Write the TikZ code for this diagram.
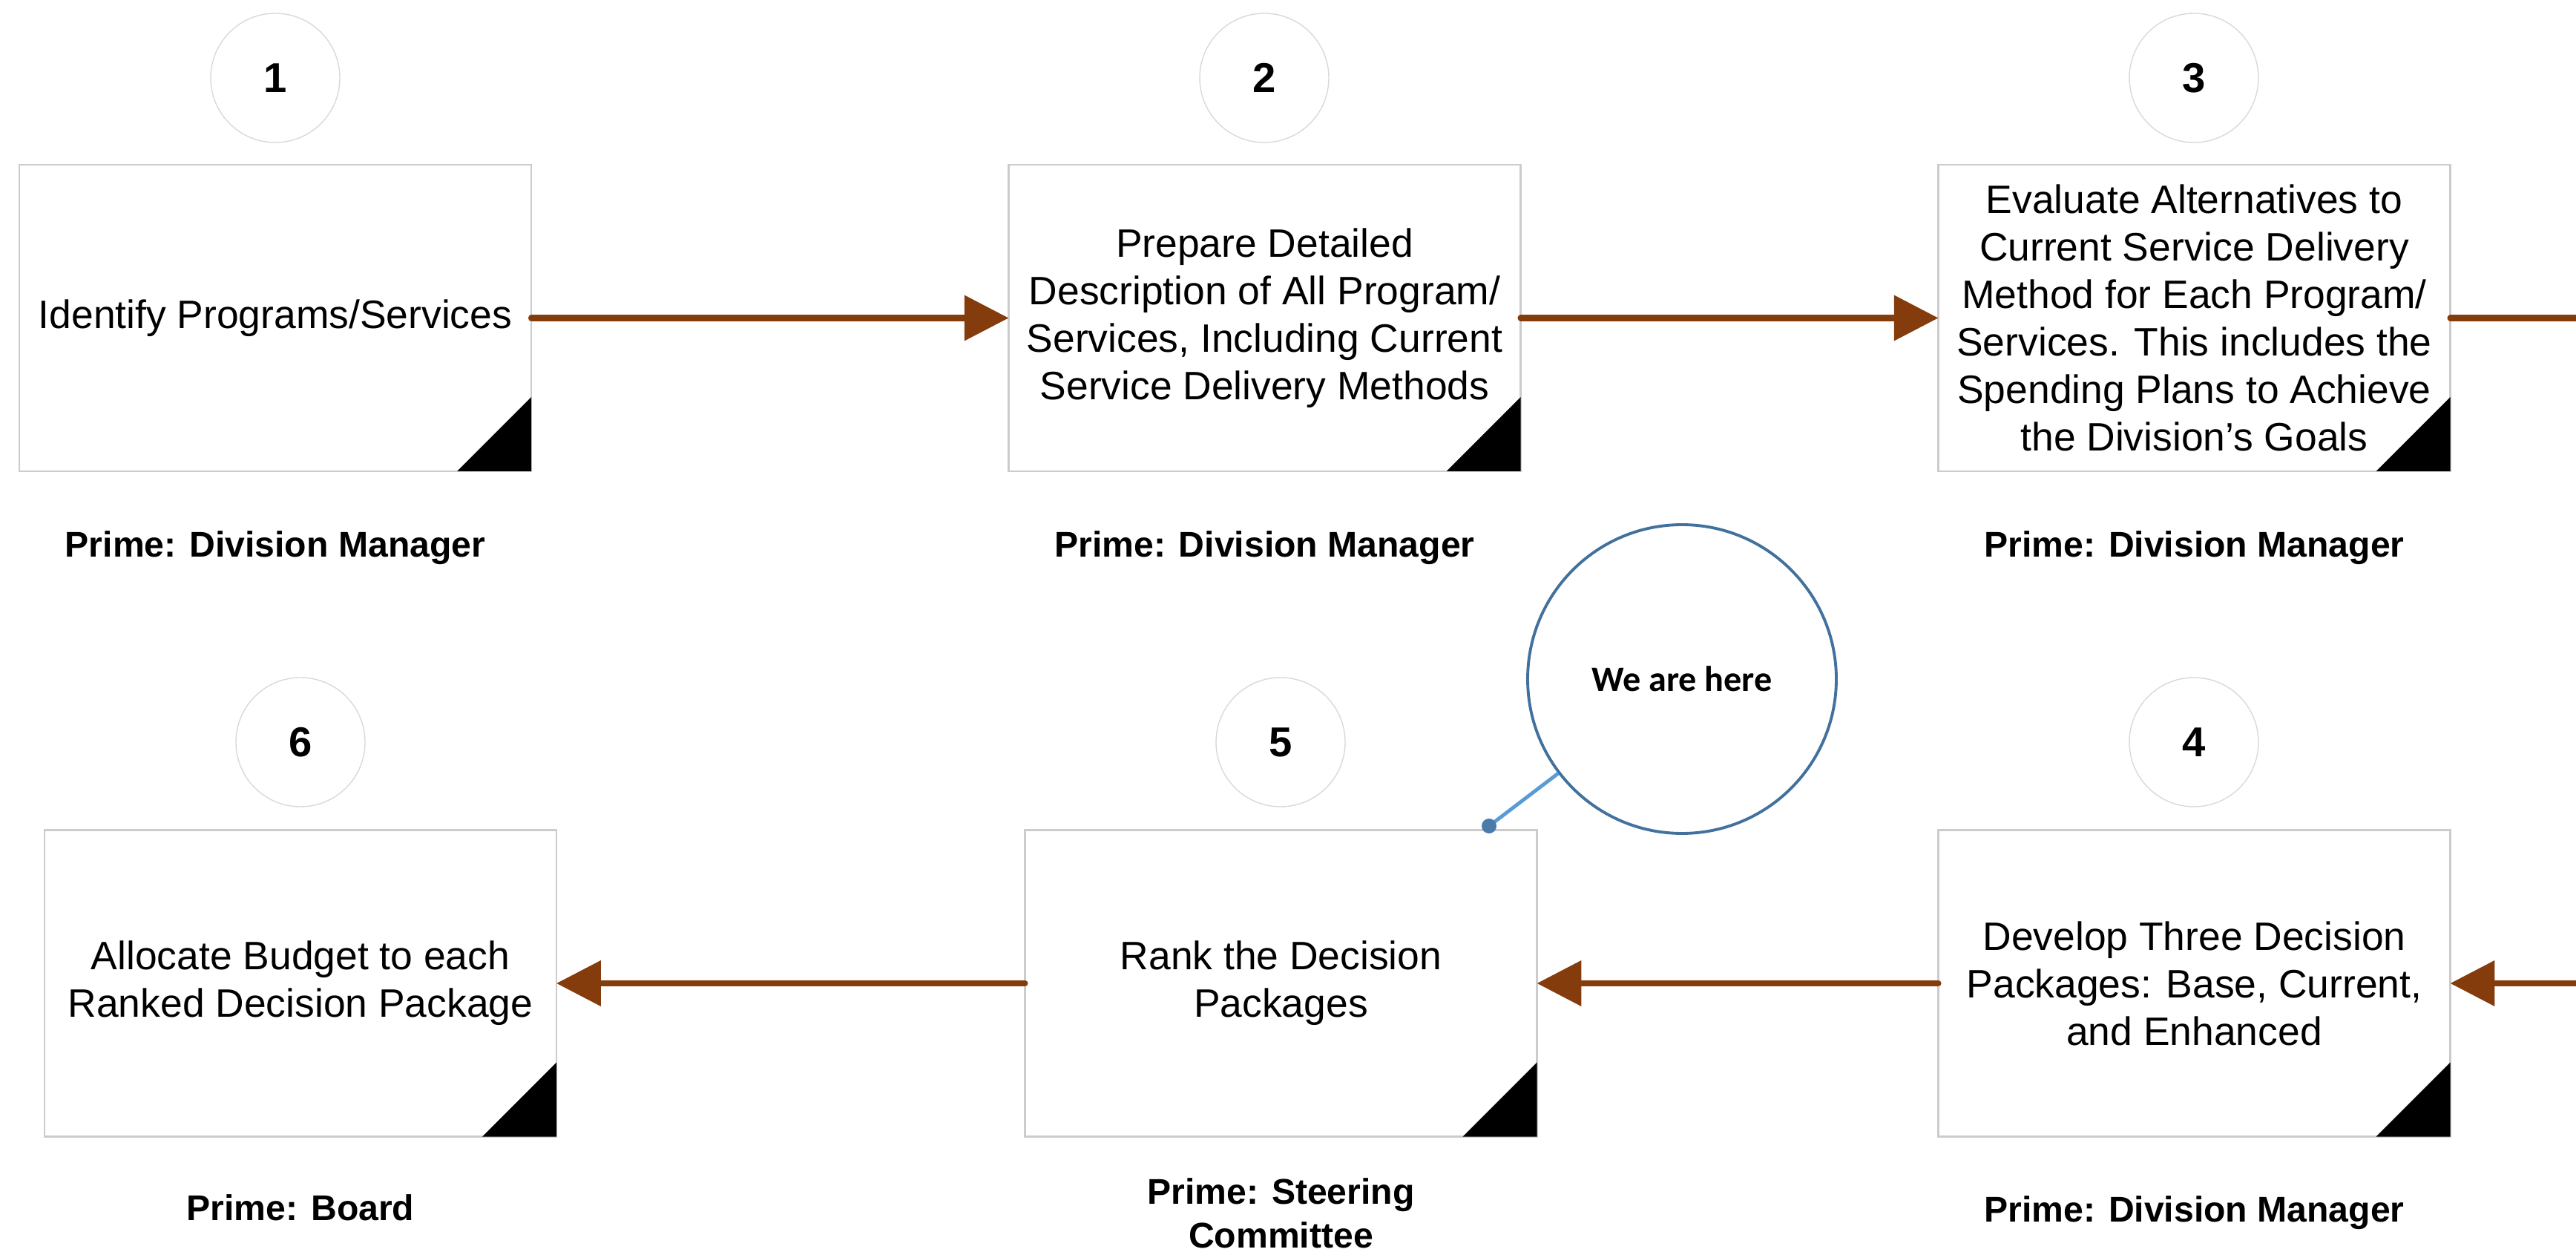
\documentclass[tikz,border=0pt]{standalone}
\usepackage{fontspec}
\setmainfont{Liberation Sans}
\newfontfamily\calibrifont{Carlito}
\usepackage{tikz}
\usetikzlibrary{arrows.meta}
\definecolor{flowbrown}{HTML}{843C0C}
\definecolor{calloutblue}{HTML}{41719C}
\definecolor{tailblue}{HTML}{5B9BD5}

\begin{document}
\begin{tikzpicture}[
    stepbox/.style={draw=black!20, line width=0.6pt, fill=white, minimum width=6.9cm,
        minimum height=4.13cm, inner sep=0pt, outer sep=0pt, align=center,
        font=\fontsize{15.2}{18.2}\selectfont},
    num/.style={circle, draw=black!15, line width=0.4pt, minimum size=1.74cm,
        inner sep=0pt, font=\fontsize{16}{16}\selectfont\bfseries},
    prime/.style={align=center, font=\fontsize{13.7}{16.8}\selectfont\bfseries},
    flow/.style={draw=flowbrown, line width=2.3pt, line cap=round,
        -{Triangle[length=17pt,width=17pt]}},
    callout/.style={circle, draw=calloutblue, line width=1.1pt, fill=white,
        minimum size=4.16cm, inner sep=0pt, font=\fontsize{13.7}{13.7}\calibrifont\bfseries}
]
    \useasboundingbox (0,0) rectangle (34.72,-16.87);

    % Step numbers
    \node[num](c1)  at (3.71,-1.05)  {1};
    \node[num](c2)  at (17.04,-1.05) {2};
    \node[num](c3)  at (29.57,-1.05) {3};
    \node[num](c6)  at (4.05,-10.00) {6};
    \node[num](c5)  at (17.26,-10.00) {5};
    \node[num](c4)  at (29.57,-10.00) {4};

    % Steps
    \node[stepbox](b1) at (3.71,-4.285)   {Identify Programs/Services};
    \node[stepbox](b2) at (17.045,-4.285) {Prepare Detailed\\Description of All Program/\\Services, Including Current\\Service Delivery Methods};
    \node[stepbox](b3) at (29.575,-4.285) {Evaluate Alternatives to\\Current Service Delivery\\Method for Each Program/\\Services. This includes the\\Spending Plans to Achieve\\the Division’s Goals};
    \node[stepbox](b6) at (4.05,-13.25)   {Allocate Budget to each\\Ranked Decision Package};
    \node[stepbox](b5) at (17.265,-13.25) {Rank the Decision\\Packages};
    \node[stepbox](b4) at (29.575,-13.25) {Develop Three Decision\\Packages: Base, Current,\\and Enhanced};

    \foreach \b in {b1,b2,b3,b4,b5,b6}
        \fill (\b.south east) -- ++(-1,0) -- ++(1,1) -- cycle;

    % Owners
    \node[prime](p1) at (3.71,-7.38)    {Prime: Division Manager};
    \node[prime](p2) at (17.045,-7.38)  {Prime: Division Manager};
    \node[prime](p3) at (29.575,-7.38)  {Prime: Division Manager};
    \node[prime](p6) at (4.05,-16.27)   {Prime: Board};
    \node[prime](p5) at (17.265,-16.35) {Prime: Steering\\Committee};
    \node[prime](p4) at (29.575,-16.34) {Prime: Division Manager};

    \coordinate (rtop) at (34.72,-4.285);
    \coordinate (rbot) at (34.72,-13.25);

    % Transitions
    \path
        (b1)
            edge [flow] (b2)
        (b2)
            edge [flow] (b3)
        (b3)
            edge [flow, -] (rtop)
        (rbot)
            edge [flow] (b4)
        (b4)
            edge [flow] (b5)
        (b5)
            edge [flow] (b6)
        ;

    % Callout
    \node[callout](here) at (22.67,-9.15) {We are here};
    \coordinate (pin) at (20.07,-11.13);
    \draw[tailblue, line width=1.4pt] (pin) -- (here);
    \fill[tailblue!80!black] (pin) circle (0.1);
\end{tikzpicture}
\end{document}
